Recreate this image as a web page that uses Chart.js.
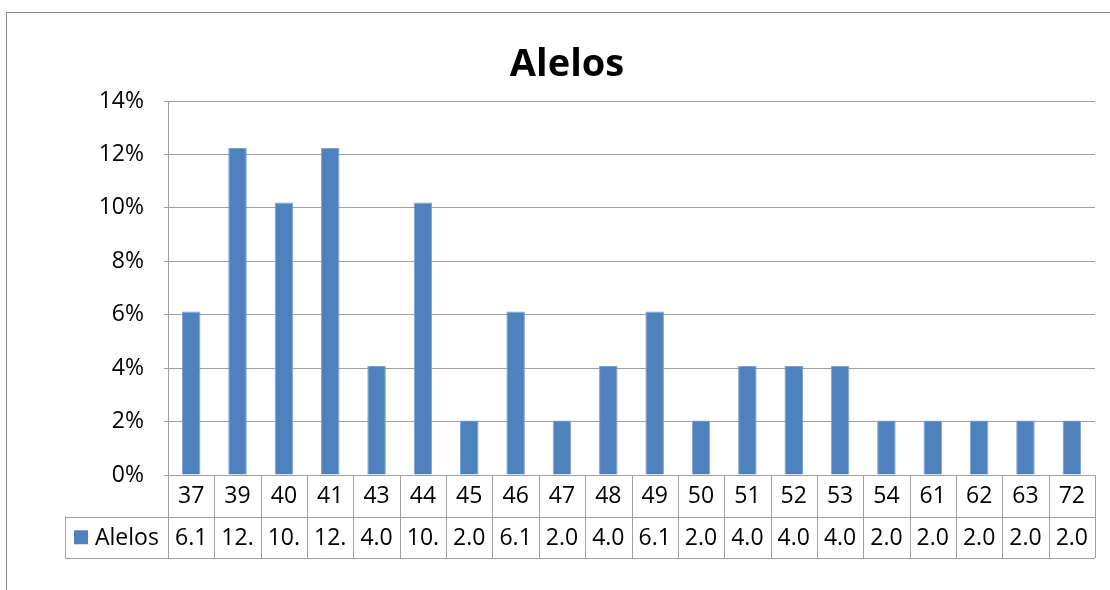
<!DOCTYPE html>
<html>
<head>
<meta charset="utf-8">
<script src="https://cdn.jsdelivr.net/npm/chart.js@4.4.1/dist/chart.umd.min.js"></script>
<style>
  html, body { margin: 0; padding: 0; background: #ffffff; }
  #wrap { width: 1110px; height: 590px; }
</style>
</head>
<body>
<div id="wrap"><canvas id="chart" width="1110" height="590"></canvas></div>
<script>
// Allele sizes and their relative frequency (%) out of 49 observed alleles
const alleles = ['37', '39', '40', '41', '43', '44', '45', '46', '47', '48',
                 '49', '50', '51', '52', '53', '54', '61', '62', '63', '72'];
const frequency = [6.12, 12.24, 10.20, 12.24, 4.08, 10.20, 2.04, 6.12, 2.04, 4.08,
                   6.12, 2.04, 4.08, 4.08, 4.08, 2.04, 2.04, 2.04, 2.04, 2.04];
const seriesName = 'Alelos';
const chartTitle = 'Alelos';
const yTickStep = 2;
const yMax = 14;

const BAR_COLOR = '#4F81BD';
const GRID_COLOR = '#a0a0a0';
const FONT = '"Open Sans", "Noto Sans", sans-serif';
const TEXT_SIZE = 23;

// Frame around the whole chart, and the title
const framePlugin = {
  id: 'frame',
  beforeDraw(chart) {
    const ctx = chart.ctx;
    ctx.save();
    ctx.fillStyle = '#ffffff';
    ctx.fillRect(0, 0, chart.width, chart.height);
    ctx.strokeStyle = '#8c8c8c';
    ctx.lineWidth = 1;
    ctx.strokeRect(6.5, 12.5, chart.width + 50, chart.height + 50);
    ctx.restore();
  },
  afterDraw(chart) {
    const ctx = chart.ctx;
    ctx.save();
    ctx.fillStyle = '#000000';
    ctx.font = 'bold 38px ' + FONT;
    ctx.textAlign = 'center';
    ctx.textBaseline = 'alphabetic';
    ctx.fillText(chartTitle, 567, 76);
    ctx.restore();
  }
};

// Data table under the plot: category row, then the series row with its legend key
const dataTablePlugin = {
  id: 'dataTable',
  afterDraw(chart) {
    const ctx = chart.ctx;
    const xs = chart.scales.x;
    const area = chart.chartArea;
    const n = alleles.length;
    const step = (area.right - area.left) / n;
    const rowH = 41.5;
    const top = area.bottom;
    const mid = top + rowH;
    const bot = mid + rowH;
    const legendLeft = 65;

    ctx.save();
    ctx.strokeStyle = GRID_COLOR;
    ctx.lineWidth = 1;
    ctx.beginPath();
    // horizontal rules
    ctx.moveTo(area.left, Math.round(top) + 0.5); ctx.lineTo(area.right, Math.round(top) + 0.5);
    ctx.moveTo(legendLeft, Math.round(mid) + 0.5); ctx.lineTo(area.right, Math.round(mid) + 0.5);
    ctx.moveTo(legendLeft, Math.round(bot) + 0.5); ctx.lineTo(area.right, Math.round(bot) + 0.5);
    // vertical rules between categories
    for (let i = 0; i <= n; i++) {
      const x = Math.round(area.left + i * step) + 0.5;
      ctx.moveTo(x, top); ctx.lineTo(x, bot);
    }
    ctx.moveTo(legendLeft + 0.5, mid); ctx.lineTo(legendLeft + 0.5, bot);
    ctx.stroke();

    ctx.fillStyle = '#000000';
    ctx.font = TEXT_SIZE + 'px ' + FONT;
    ctx.textAlign = 'center';
    ctx.textBaseline = 'middle';
    alleles.forEach((label, i) => {
      const cx = xs.getPixelForValue(i);
      ctx.fillText(label, cx, top + rowH / 2 + 1);
      // cells are narrow: only the first three characters of the value fit
      const text = frequency[i].toFixed(2).slice(0, 3);
      ctx.fillText(text, cx, mid + rowH / 2 + 1);
    });

    // legend key
    ctx.fillStyle = BAR_COLOR;
    ctx.fillRect(74, mid + rowH / 2 - 7, 14, 14);
    ctx.fillStyle = '#000000';
    ctx.textAlign = 'left';
    ctx.fillText(seriesName, 95, mid + rowH / 2 + 1);
    ctx.restore();
  }
};

new Chart(document.getElementById('chart'), {
  type: 'bar',
  data: {
    labels: alleles,
    datasets: [{
      label: seriesName,
      data: frequency,
      backgroundColor: BAR_COLOR,
      borderColor: '#7ea3d3',
      borderWidth: { left: 1, right: 1, top: 1, bottom: 0 },
      categoryPercentage: 1.0,
      barPercentage: 0.4
    }]
  },
  options: {
    responsive: false,
    animation: false,
    devicePixelRatio: 1,
    layout: { padding: { left: 0, right: 15, top: 101, bottom: 115 } },
    plugins: {
      legend: { display: false },
      title: { display: false },
      tooltip: { enabled: false }
    },
    scales: {
      x: {
        display: false,
        offset: true
      },
      y: {
        min: 0,
        max: yMax,
        afterFit(scale) { scale.width = 168; },
        ticks: {
          stepSize: yTickStep,
          color: '#000000',
          font: { family: FONT, size: TEXT_SIZE },
          padding: 20,
          callback: v => v + '%'
        },
        grid: {
          color: GRID_COLOR,
          lineWidth: 1,
          tickLength: 4,
          drawTicks: true
        },
        border: { display: true, color: GRID_COLOR }
      }
    }
  },
  plugins: [framePlugin, dataTablePlugin]
});
</script>
</body>
</html>
